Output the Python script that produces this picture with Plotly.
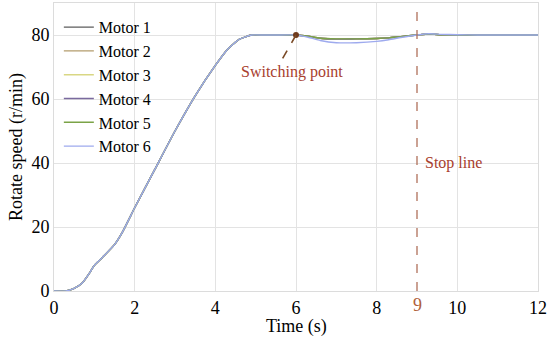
import plotly.graph_objects as go

time_s = [0, 0.3, 0.5, 0.7, 0.9, 1.0, 1.2, 1.5, 1.7, 2.0, 2.5, 3.0, 3.5, 4.0, 4.3, 4.6, 4.9, 5.2, 5.5, 6.0,
          6.3, 6.6, 7.0, 7.5, 8.0, 8.3, 8.6, 9.0, 9.3, 9.6, 10.0, 10.5, 11.0, 11.5, 12.0]

ramp = [0, 0, 0.8, 2.5, 6, 8, 10.5, 14.5, 18.5, 26, 38, 50, 61, 70.5, 75.5, 78.7, 80, 80, 80, 80]

motor1 = ramp + [79.6, 79.0, 78.8, 78.8, 78.9, 79.1, 79.5, 80.0, 80.3, 80.1, 80.0, 80.0, 80.0, 80.0, 80.0]
motor2 = ramp + [79.6, 79.0, 78.7, 78.7, 78.9, 79.1, 79.5, 80.0, 80.3, 80.1, 80.0, 80.0, 80.0, 80.0, 80.0]
motor3 = ramp + [79.6, 79.0, 78.8, 78.8, 78.9, 79.1, 79.5, 80.0, 80.3, 80.1, 80.0, 80.0, 80.0, 80.0, 80.0]
motor4 = ramp + [79.6, 79.0, 78.7, 78.8, 78.9, 79.1, 79.5, 80.0, 80.3, 80.1, 80.0, 80.0, 80.0, 80.0, 80.0]
motor5 = ramp + [79.6, 79.0, 78.8, 78.8, 78.9, 79.1, 79.5, 80.0, 80.3, 80.1, 80.0, 80.0, 80.0, 80.0, 80.0]
motor6 = ramp + [79.3, 78.3, 77.6, 77.6, 78.0, 78.5, 79.2, 80.0, 80.4, 80.2, 80.1, 80.0, 80.0, 80.0, 80.0]

names = ["Motor 1", "Motor 2", "Motor 3", "Motor 4", "Motor 5", "Motor 6"]
series = [motor1, motor2, motor3, motor4, motor5, motor6]
colors = ["#5c5c5c", "#b39c6c", "#d9d784", "#7a6a9e", "#7ba347", "#9eaaee"]

switch_t, switch_v = 6, 80
stop_t = 9
x_ticks = [0, 2, 4, 6, 8, 10, 12]
y_ticks = [0, 20, 40, 60, 80]

FONT = "Liberation Serif, Times New Roman, serif"
RED = "#a8402e"

fig = go.Figure()
for n, s, c in zip(names, series, colors):
    fig.add_trace(go.Scatter(x=time_s, y=s, mode="lines", name=n,
                             line=dict(color=c, width=1.4, shape="spline", smoothing=0.5)))

fig.add_trace(go.Scatter(x=[switch_t], y=[switch_v], mode="markers", showlegend=False,
                         marker=dict(color="#6e3a1c", size=6)))

# dashed pointer from switching point to its label
fig.add_shape(type="line", x0=switch_t, y0=switch_v, x1=5.63, y1=71.8,
              line=dict(color="#7a4a26", width=1.6, dash="dash"))
# stop line
fig.add_shape(type="line", x0=stop_t, x1=stop_t, y0=0, y1=1, yref="paper", xref="x",
              line=dict(color="#b0705a", width=1.3, dash="dash"))

fig.add_annotation(x=5.9, y=68.5, text="Switching point", showarrow=False,
                   font=dict(family=FONT, size=16, color=RED))
fig.add_annotation(x=9.15, y=40, text="Stop line", showarrow=False, xanchor="left",
                   font=dict(family=FONT, size=16, color=RED))
fig.add_annotation(x=stop_t, y=0, yref="y", text="9", showarrow=False, yanchor="top", yshift=-2,
                   font=dict(family=FONT, size=18, color="#b0603a"))
fig.add_annotation(x=0.5, xref="paper", y=-0.122, yref="paper", text="Time (s)", showarrow=False,
                   yanchor="middle", font=dict(family=FONT, size=18, color="black"))

fig.update_layout(
    width=550, height=338,
    margin=dict(l=54, r=12, t=3, b=47, autoexpand=False),
    paper_bgcolor="white", plot_bgcolor="white",
    font=dict(family=FONT, size=18, color="black"),
    showlegend=True,
    legend=dict(x=0.01, y=0.975, xanchor="left", yanchor="top",
                bgcolor="rgba(255,255,255,0)", font=dict(family=FONT, size=16, color="black"),
                tracegroupgap=0),
    xaxis=dict(range=[0, 12], tickvals=x_ticks, showgrid=True, gridcolor="#e3e3e3",
               showline=True, linecolor="#dcdcdc", mirror=True, zeroline=False,
               ticks="", automargin=False),
    yaxis=dict(range=[0, 90], tickvals=y_ticks, showgrid=True, gridcolor="#e3e3e3",
               showline=True, linecolor="#dcdcdc", mirror=True, zeroline=False,
               ticks="", automargin=False,
               title=dict(text="Rotate speed (r/min)", standoff=4, font=dict(size=18))),
)

fig.write_html("out.html", config={"displayModeBar": False},
               post_script="document.body.style.margin='0px';")
